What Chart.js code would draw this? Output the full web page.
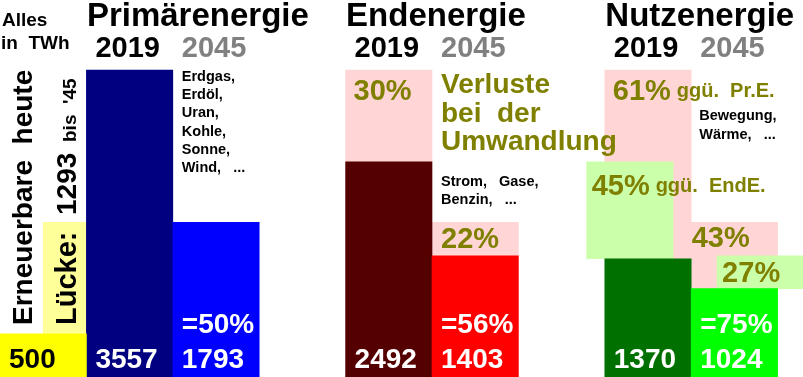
<!DOCTYPE html>
<html>
<head>
<meta charset="utf-8">
<script src="https://cdn.jsdelivr.net/npm/chart.js@4"></script>
<style>
  html, body { margin: 0; padding: 0; background: #fff; }
  canvas { display: block; }
</style>
</head>
<body>
<canvas id="energy" width="803" height="377"></canvas>
<script>
// values in TWh
const stages = ["Primärenergie", "Endenergie", "Nutzenergie"];
const years = ["2019", "2045"];
const energy2019 = [3557, 2492, 1370];
const energy2045 = [1793, 1403, 1024];
const renewableToday = 500;
const renewableGap = 1293; // still missing until '45
const share2045 = ["=50%", "=56%", "=75%"];
const lossVsPrimary = ["30%", "22%", "61%", "43%"]; // End 2019, End 2045, Nutz 2019, Nutz 2045
const lossVsFinal = ["45%", "27%"]; // Nutz 2019, Nutz 2045
const primaryNotes = ["Erdgas,", "Erdöl,", "Uran,", "Kohle,", "Sonne,", "Wind,   ..."];
const finalNotes = ["Strom,   Gase,", "Benzin,   ..."];
const usefulNotes = ["Bewegung,", "Wärme,   ..."];
const lossNote = ["Verluste", "bei  der", "Umwandlung"];

// layout: every column is one unit on the x axis
const colW = 86.4;
const stageCol = [1, 4, 7];
const darkCols = ["#000080", "#550000", "#007000"];
const brightCols = ["#0000ff", "#ff0000", "#00ff00"];
const olive = "#808000";

const solid = [], solidColors = [];
stages.forEach((s, i) => {
  solid.push({ x: stageCol[i] + 0.5, y: [0, energy2019[i]] });
  solidColors.push(darkCols[i]);
  solid.push({ x: stageCol[i] + 1.5, y: [0, energy2045[i]] });
  solidColors.push(brightCols[i]);
});
solid.push({ x: 0.5, y: [0, renewableToday] });
solidColors.push("#ffff00");

// losses against primary energy (pink)
const losses = [
  { x: stageCol[1] + 0.5, y: [energy2019[1], energy2019[0]] },
  { x: stageCol[1] + 1.5, y: [energy2045[1], energy2045[0]] },
  { x: stageCol[2] + 0.5, y: [energy2019[2], energy2019[0]] },
  { x: stageCol[2] + 1.5, y: [energy2045[2], energy2045[0]] },
];
// losses against final energy (light green), drawn a little shifted
const finalLosses = [
  { x: stageCol[2] + 0.29, y: [energy2019[2], energy2019[1]] },
  { x: stageCol[2] + 1.8, y: [energy2045[2], energy2045[1]] },
];

const textPlugin = {
  id: "texts",
  afterDatasetsDraw(chart) {
    const { ctx, scales: { x, y } } = chart;
    const L = (v) => x.getPixelForValue(v);
    const T = (v) => y.getPixelForValue(v);
    const put = (t, px, py, font, color) => {
      ctx.font = font; ctx.fillStyle = color; ctx.fillText(t, px, py);
    };
    const putUp = (t, px, py, font, color) => {
      ctx.save(); ctx.translate(px, py); ctx.rotate(-Math.PI / 2);
      ctx.font = font; ctx.fillStyle = color; ctx.fillText(t, 0, 0);
      ctx.restore();
    };
    const F = "'Liberation Sans', Arial, sans-serif";
    const bottom = T(0);
    ctx.save();
    ctx.textBaseline = "alphabetic";

    put("Alles", 2, 26, "bold 19px " + F, "#000");
    put("in  TWh", 1, 49, "bold 19px " + F, "#000");

    stages.forEach((s, i) => {
      const c = stageCol[i];
      put(s, L(c) + 0.5, 26, "bold 33px " + F, "#000");
      put(years[0], L(c) + 9, 57, "bold 29px " + F, "#000");
      put(years[1], L(c + 1) + 9, 57, "bold 29px " + F, "#808080");
      put(String(energy2019[i]), L(c) + 9, bottom - 9, "bold 28px " + F, "#fff");
      put(String(energy2045[i]), L(c + 1) + 9, bottom - 9, "bold 28px " + F, "#fff");
      put(share2045[i], L(c + 1) + 9, bottom - 44, "bold 28px " + F, "#fff");
    });
    put(String(renewableToday), 9, bottom - 9, "bold 28px " + F, "#000");

    // renewable column
    putUp("Erneuerbare  heute", 32, 325, "bold 28px " + F, "#000");
    putUp("Lücke:", 76, 325, "bold 29px " + F, "#000");
    putUp(String(renewableGap), 76, 215, "bold 28px " + F, "#000");
    putUp("bis  '45", 76, 142, "bold 19px " + F, "#000");

    // notes
    primaryNotes.forEach((t, k) => put(t, L(2) + 9, 81 + k * 18.2, "bold 14.5px " + F, "#000"));
    finalNotes.forEach((t, k) => put(t, L(5) + 9, 186 + k * 18.2, "bold 14.5px " + F, "#000"));
    usefulNotes.forEach((t, k) => put(t, L(8) + 8, 120 + k * 18.8, "bold 14.5px " + F, "#000"));
    lossNote.forEach((t, k) => put(t, L(5) + 9, 93 + k * 28.5, "bold 28px " + F, olive));

    // loss percentages
    put(lossVsPrimary[0], L(4) + 8, T(energy2019[0]) + 30, "bold 29px " + F, olive);
    put(lossVsPrimary[1], L(5) + 9, T(energy2045[0]) + 26, "bold 29px " + F, olive);
    put(lossVsPrimary[2], L(7) + 8, T(energy2019[0]) + 30, "bold 29px " + F, olive);
    put("ggü.  Pr.E.", L(7) + 72, T(energy2019[0]) + 27, "bold 20px " + F, olive);
    put(lossVsPrimary[3], L(8) + 0.5, T(energy2045[0]) + 25, "bold 29px " + F, olive);
    put(lossVsFinal[0], L(stageCol[2] - 0.21) + 5, T(energy2019[1]) + 33, "bold 29px " + F, olive);
    put("ggü.  EndE.", L(stageCol[2] - 0.21) + 69, T(energy2019[1]) + 30, "bold 20px " + F, olive);
    put(lossVsFinal[1], L(stageCol[2] + 1.3) + 5, T(energy2045[1]) + 26, "bold 29px " + F, olive);

    ctx.restore();
  }
};

new Chart(document.getElementById("energy"), {
  type: "bar",
  data: {
    datasets: [
      { label: "TWh", data: solid, backgroundColor: solidColors, barThickness: colW, grouped: false, borderWidth: 0 },
      { label: "Verluste ggü. EndE.", data: finalLosses, backgroundColor: "#ccffaa", barThickness: colW, grouped: false, borderWidth: 0 },
      { label: "Lücke", data: [{ x: 0.75, y: [renewableToday, renewableToday + renewableGap] }], backgroundColor: "#ffff99", barThickness: colW / 2, grouped: false, borderWidth: 0 },
      { label: "Verluste ggü. Pr.E.", data: losses, backgroundColor: "#ffd5d5", barThickness: colW, grouped: false, borderWidth: 0 },
    ],
  },
  options: {
    responsive: false,
    animation: false,
    devicePixelRatio: 1,
    events: [],
    layout: { padding: 0 },
    plugins: {
      legend: { display: false },
      tooltip: { enabled: false },
    },
    scales: {
      x: { type: "linear", display: false, min: 0, max: 803 / colW, offset: false },
      y: { type: "linear", display: false, min: 0, max: 4368 },
    },
  },
  plugins: [textPlugin],
});
</script>
</body>
</html>
